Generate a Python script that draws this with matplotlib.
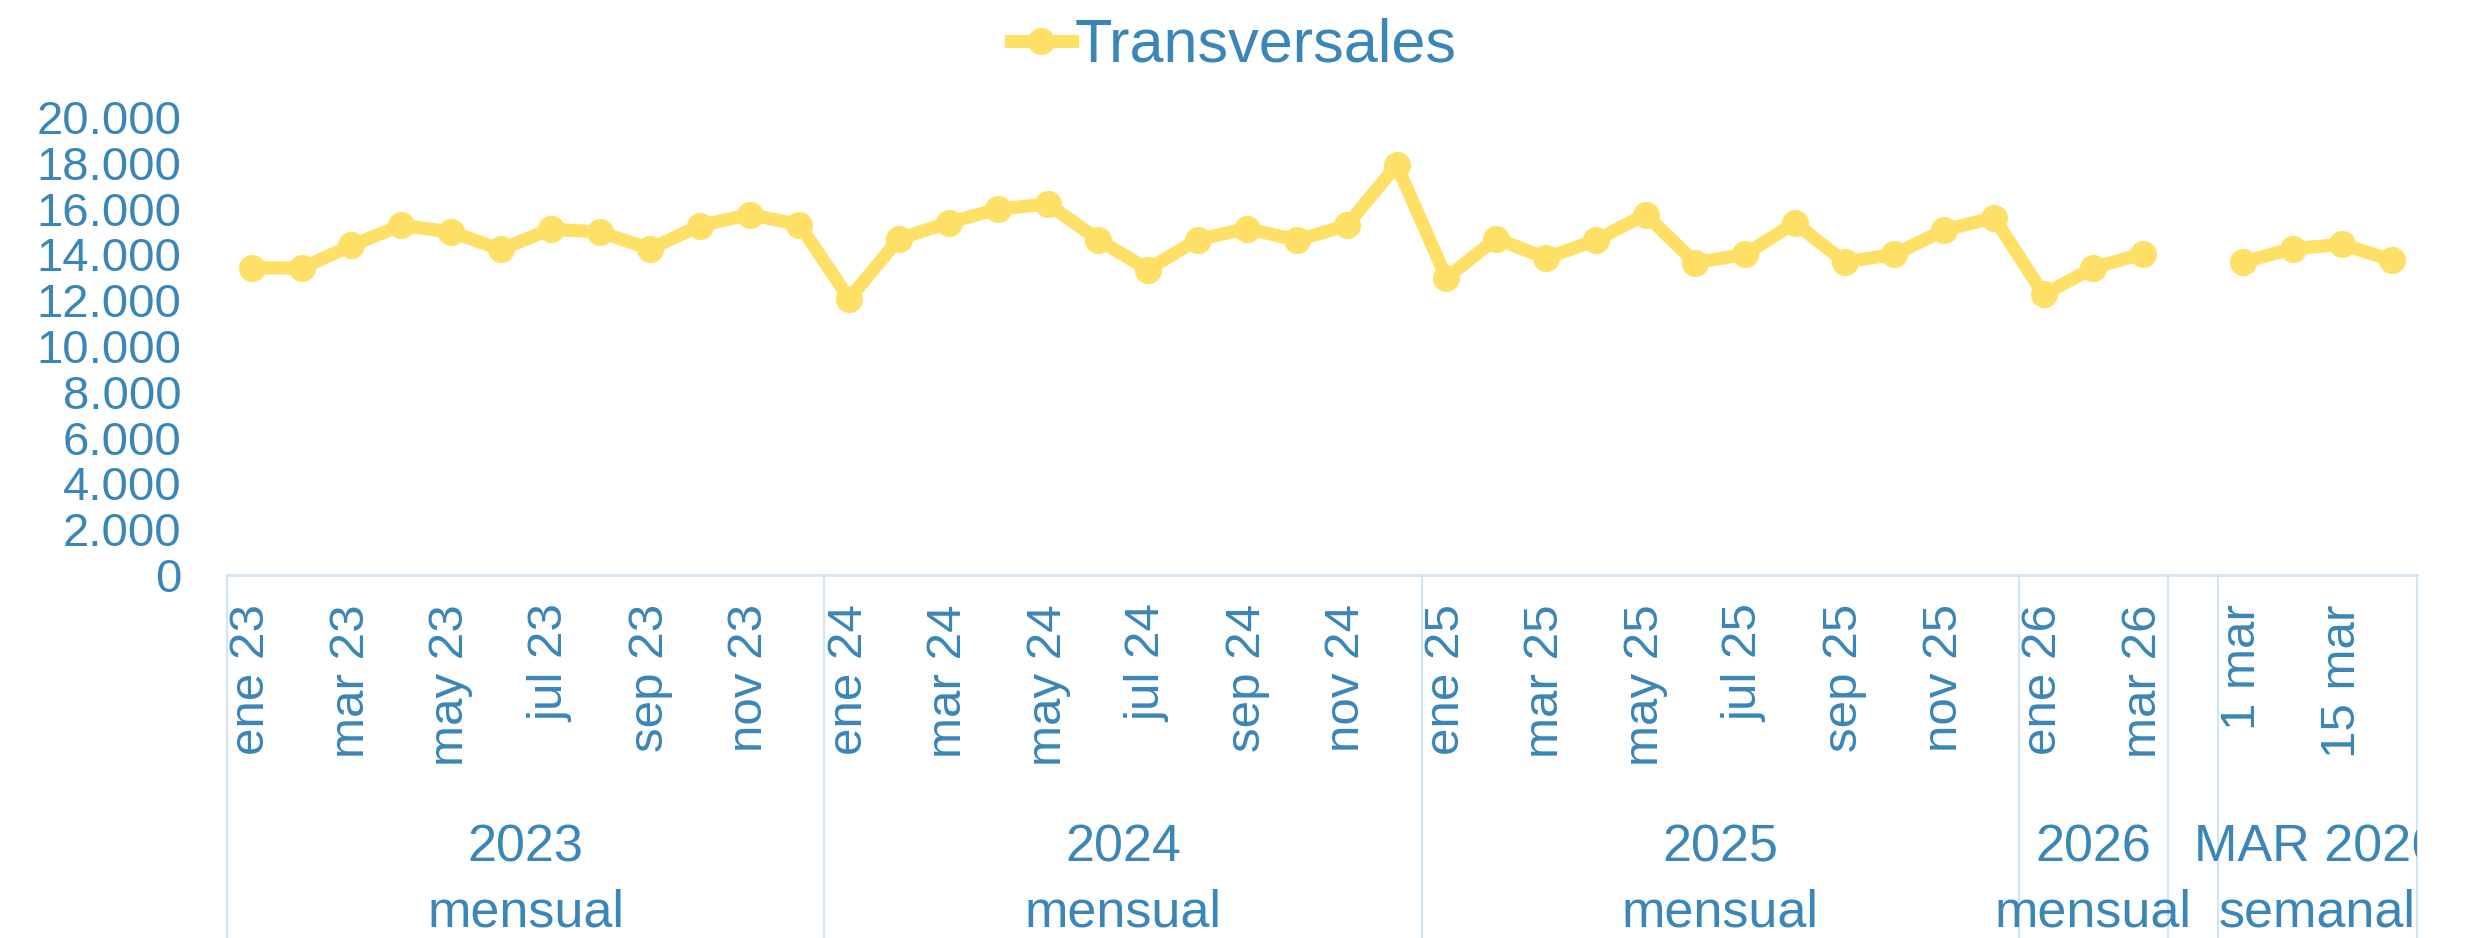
import numpy as np
import matplotlib.pyplot as plt

plt.rcParams["font.family"] = ["Liberation Sans", "DejaVu Sans"]

# categories (x axis, one per point), every second one gets a label
cats = ["ene 23", "feb 23", "mar 23", "abr 23", "may 23", "jun 23",
        "jul 23", "ago 23", "sep 23", "oct 23", "nov 23", "dic 23",
        "ene 24", "feb 24", "mar 24", "abr 24", "may 24", "jun 24",
        "jul 24", "ago 24", "sep 24", "oct 24", "nov 24", "dic 24",
        "ene 25", "feb 25", "mar 25", "abr 25", "may 25", "jun 25",
        "jul 25", "ago 25", "sep 25", "oct 25", "nov 25", "dic 25",
        "ene 26", "feb 26", "mar 26",
        "",
        "1 mar", "8 mar", "15 mar", "22 mar"]

# Transversales
vals = [13420, 13400, 14390, 15270, 14980, 14220, 15100, 14980, 14240, 15260, 15740, 15300,
        12060, 14680, 15390, 15990, 16190, 14650, 13340, 14650, 15130, 14620, 15270, 17900,
        12970, 14690, 13840, 14620, 15740, 13640, 14000, 15380, 13670, 14000, 15060, 15610,
        12250, 13420, 14030,
        np.nan,
        13670, 14250, 14440, 13740]

# outer category groups: (label line 1, label line 2, number of categories)
groups_top = ["2023", "2024", "2025", "2026", "", "MAR 2026"]
groups_bot = ["mensual", "mensual", "mensual", "mensual", "", "semanal"]
groups_n = [12, 12, 12, 3, 1, 4]

blue = "#3A86B8"
yellow = "#FFE066"
sep_col = "#D3E4F2"

x = np.arange(len(cats))
y = np.array(vals, dtype=float)

fig = plt.figure(figsize=(24.68, 9.38), dpi=100)
ax = fig.add_axes([0.09198, 0.38699, 0.88736, 0.48828])

line, = ax.plot(x, y, color=yellow, lw=9.5, marker="o", markersize=18.5,
                solid_joinstyle="round", label="Transversales")

ax.set_xlim(-0.5, len(cats) - 0.5)
ax.set_ylim(0, 20000)
ax.set_yticks(np.arange(0, 20001, 2000))
ax.set_yticklabels([f"{v:,}".replace(",", ".") for v in range(0, 20001, 2000)])
ax.set_xticks(x[::2])
ax.set_xticklabels(cats[::2], rotation=90, va="top", ha="center")
ax.tick_params(axis="both", length=0, labelcolor=blue)
ax.tick_params(axis="y", labelsize=34, pad=33)
ax.tick_params(axis="x", labelsize=35.5, pad=21)
for s in ["top", "right", "left"]:
    ax.spines[s].set_visible(False)
ax.spines["bottom"].set_color(sep_col)
ax.spines["bottom"].set_linewidth(2)

# band with group labels under the axis
band = fig.add_axes([0.09198, 0.0, 0.88736, 0.38699], sharex=ax)
band.set_ylim(0, 1)
band.axis("off")
edges = np.concatenate([[0], np.cumsum(groups_n)]) - 0.5
for e in edges:
    band.plot([e, e], [0, 1], color=sep_col, lw=1.5, clip_on=False)
for i in range(len(groups_n)):
    cx = (edges[i] + edges[i + 1]) / 2
    band.text(cx, 0.212, groups_top[i], ha="center", va="baseline",
              fontsize=37.5, color=blue, clip_on=True)
    band.text(cx, 0.033, groups_bot[i], ha="center", va="baseline",
              fontsize=37.5, color=blue, clip_on=False)

fig.legend(handles=[line], loc="upper center", bbox_to_anchor=(0.5, 1.02),
           frameon=False, fontsize=44, labelcolor=blue, handlelength=1.0,
           handletextpad=0.05, borderaxespad=0.2, markerscale=1.0)

fig.savefig("out.png", dpi=100)
